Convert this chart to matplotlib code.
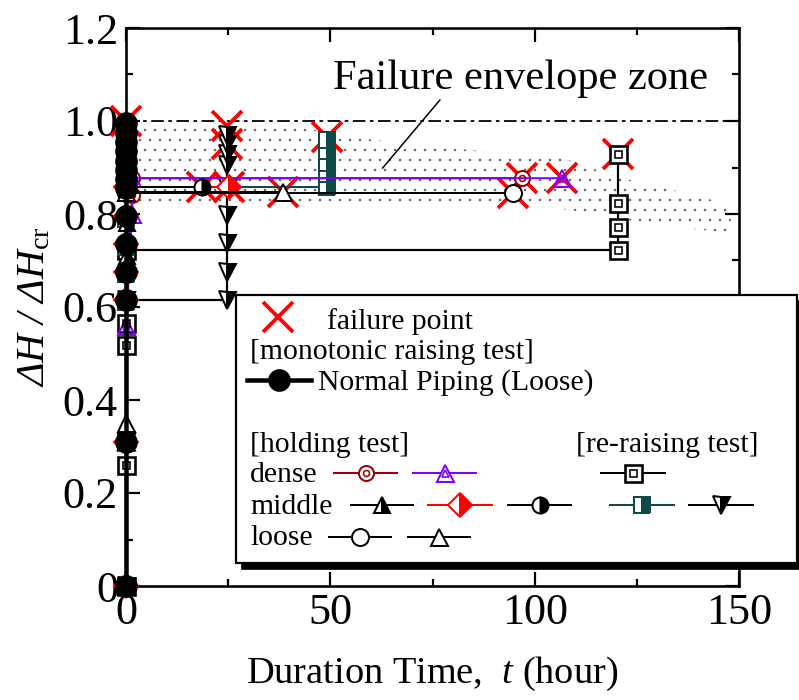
import matplotlib
matplotlib.use("Agg")
import matplotlib.pyplot as plt
from matplotlib.lines import Line2D
from matplotlib.patches import Polygon, Rectangle
from matplotlib.ticker import MultipleLocator, FuncFormatter

plt.rcParams["font.family"] = ["Liberation Serif", "DejaVu Serif"]
plt.rcParams["mathtext.fontset"] = "custom"
plt.rcParams["mathtext.rm"] = "Liberation Serif"
plt.rcParams["mathtext.it"] = "Liberation Serif:italic"
plt.rcParams["hatch.color"] = "#5a5a5a"
plt.rcParams["hatch.linewidth"] = 0.3

DPI = 120
W, H = 799, 700

# ---------------- data ----------------
# monotonic raising test, Normal Piping (Loose)
mono_t = [0, 0, 0, 0, 0, 0, 0, 0, 0, 0, 0, 0, 0, 0]
mono_y = [0.0, 0.31, 0.615, 0.675, 0.735, 0.795, 0.855, 0.875, 0.895,
          0.915, 0.935, 0.955, 0.975, 0.995]

# holding tests
dense_hold_a_t = [0, 0, 0, 1.5, 1.5, 96.8]
dense_hold_a_y = [0.0, 0.31, 0.615, 0.84, 0.877, 0.877]
dense_hold_b_t = [0, 0, 0, 1.5, 1.5, 106.8]
dense_hold_b_y = [0.0, 0.31, 0.56, 0.80, 0.877, 0.877]

middle_hold_a_t = [0, 0, 0.3, 0.3]
middle_hold_a_y = [0.0, 0.31, 0.71, 0.78]
middle_hold_b_t = [0, 0, 0, 0, 0, 0, 0, 25.2]
middle_hold_b_y = [0.0, 0.31, 0.615, 0.675, 0.735, 0.795, 0.858, 0.858]
middle_hold_c_t = [0, 0, 0, 0, 18.6]
middle_hold_c_y = [0.0, 0.31, 0.615, 0.858, 0.858]

loose_hold_a_t = [0, 0, 0, 94.6]
loose_hold_a_y = [0.0, 0.31, 0.845, 0.845]
loose_hold_b_t = [0, 0, 0, 38.4]
loose_hold_b_y = [0.0, 0.35, 0.848, 0.848]

# re-raising tests
dense_rr_t = [0, 0, 0, 0, 0, 120.3, 120.3, 120.3, 120.3]
dense_rr_y = [0.0, 0.26, 0.518, 0.566, 0.722, 0.722, 0.773, 0.824, 0.930]

middle_rr_a_t = [0, 0, 0, 0, 0, 0, 0, 49.1, 49.1, 49.1, 49.1, 49.1]
middle_rr_a_y = [0.0, 0.31, 0.61, 0.67, 0.73, 0.79, 0.858, 0.858, 0.885,
                 0.91, 0.935, 0.96]
middle_rr_b_t = [0, 0, 0, 24.7, 24.7, 24.7, 24.7, 24.7, 24.7, 24.7, 24.7,
                 24.7]
middle_rr_b_y = [0.0, 0.31, 0.615, 0.615, 0.676, 0.737, 0.798, 0.858, 0.905,
                 0.93, 0.95, 0.97]

# failure points
fail_t = [0, 18.6, 24.7, 24.7, 25.2, 38.4, 49.1, 94.6, 96.8, 106.8, 120.3]
fail_y = [1.0, 0.858, 0.95, 0.99, 0.858, 0.848, 0.965, 0.845, 0.877,
          0.877, 0.930]

# failure envelope zone outline
zone_t = [0, 40, 60, 75, 107, 120, 130, 148, 148, 130, 115, 105, 0]
zone_y = [1.0, 0.99, 0.96, 0.945, 0.92, 0.88, 0.86, 0.82, 0.76, 0.775,
          0.80, 0.813, 0.813]

x_ticks = [0, 50, 100, 150]
y_ticks = [0.0, 0.2, 0.4, 0.6, 0.8, 1.0, 1.2]

DARKRED = "#9a0000"
PURPLE = "#8000ff"
TEAL = "#0e4a48"
RED = "#ff0000"


def px(v):
    return v * 72.0 / DPI


fig = plt.figure(figsize=(W / DPI, H / DPI), dpi=DPI)
ax = fig.add_axes([126 / W, 1 - 586 / H, (739 - 126) / W, (586 - 28) / H])
ax.set_xlim(0, 150)
ax.set_ylim(0, 1.2)

# envelope zone (stippled)
ax.add_patch(Polygon(list(zip(zone_t, zone_y)), closed=True, facecolor="none",
                     edgecolor="#5a5a5a", linewidth=0, hatch="..", zorder=1))
ax.axhline(1.0, color="black", lw=px(1.8), ls=(0, (7, 2.5, 2, 2.5)), zorder=1.5)
ax.plot([62.8, 76.8], [0.899, 1.045], color="black", lw=px(1.5), zorder=1.5)
ax.text(50.6, 1.09, "Failure envelope zone", fontsize=25.5, ha="left",
        va="center")

common = dict(clip_on=False, zorder=3)


def series(t, y, color, lw, **mk):
    ax.plot(t, y, color=color, lw=lw, **mk, **common)


# failure crosses (under the markers)
ax.plot(fail_t, fail_y, ls="none", marker="x", ms=px(30), mew=px(3.8),
        color=RED, clip_on=False, zorder=2.5)

# re-raising tests
series(dense_rr_t, dense_rr_y, "black", px(2.2), marker="s", ms=px(17),
       mfc="white", mec="black", mew=px(2.6))
ax.plot(dense_rr_t, dense_rr_y, ls="none", marker="s", ms=px(7), mfc="none",
        mec="black", mew=px(1.6), clip_on=False, zorder=3.1)
series(middle_rr_a_t, middle_rr_a_y, TEAL, px(2.0), marker="s", ms=px(16),
       fillstyle="right", mfc=TEAL, mfcalt="white", mec=TEAL, mew=px(2))
series(middle_rr_b_t, middle_rr_b_y, "black", px(2.2), marker="v", ms=px(17),
       fillstyle="right", mfc="black", mfcalt="white", mec="black",
       mew=px(2))

# holding tests
series(dense_hold_a_t, dense_hold_a_y, DARKRED, px(2.0), marker="o",
       ms=px(15), mfc="white", mec=DARKRED, mew=px(2))
ax.plot(dense_hold_a_t, dense_hold_a_y, ls="none", marker="o", ms=px(6),
        mfc="none", mec=DARKRED, mew=px(1.6), clip_on=False, zorder=3.1)
series(dense_hold_b_t, dense_hold_b_y, PURPLE, px(2.0), marker="^",
       ms=px(17), mfc="none", mec=PURPLE, mew=px(2))
ax.plot(dense_hold_b_t, dense_hold_b_y, ls="none", marker="^", ms=px(7),
        mfc="none", mec=PURPLE, mew=px(1.6), clip_on=False, zorder=3.1)
series(middle_hold_a_t, middle_hold_a_y, "black", px(2.0), marker="^",
       ms=px(16), fillstyle="right", mfc="black", mfcalt="white",
       mec="black", mew=px(2))
series(middle_hold_b_t, middle_hold_b_y, RED, px(2.0), marker="D",
       ms=px(17), fillstyle="right", mfc=RED, mfcalt="white", mec=RED,
       mew=px(2))
series(middle_hold_c_t, middle_hold_c_y, "black", px(2.0), marker="o",
       ms=px(16), fillstyle="right", mfc="black", mfcalt="white",
       mec="black", mew=px(2))
series(loose_hold_a_t, loose_hold_a_y, "black", px(2.0), marker="o",
       ms=px(17), mfc="white", mec="black", mew=px(2))
series(loose_hold_b_t, loose_hold_b_y, "black", px(2.0), marker="^",
       ms=px(17), mfc="white", mec="black", mew=px(2))

# monotonic raising test
ax.plot(mono_t, mono_y, color="black", lw=px(4.5), marker="o", ms=px(21),
        mfc="black", mec="black", clip_on=False, zorder=4)

# axes styling
for s in ax.spines.values():
    s.set_linewidth(px(2.6))
ax.xaxis.set_major_locator(MultipleLocator(50))
ax.xaxis.set_minor_locator(MultipleLocator(25))
ax.yaxis.set_major_locator(MultipleLocator(0.2))
ax.yaxis.set_minor_locator(MultipleLocator(0.1))
ax.set_xticks(x_ticks)
ax.set_yticks(y_ticks)
ax.yaxis.set_major_formatter(FuncFormatter(lambda v, p: "0" if abs(v) < 1e-9 else f"{v:.1f}"))
ax.tick_params(which="both", direction="in", top=True, right=True,
               width=px(2.2))
ax.tick_params(which="major", length=px(14), labelsize=26.5)
ax.tick_params(which="minor", length=px(7))
ax.tick_params(axis="y", pad=px(8))
ax.tick_params(axis="x", pad=px(7))

ax.set_xlabel("Duration Time,  $\\mathit{t}$ (hour)", fontsize=23,
              labelpad=px(22))
ax.set_ylabel("ΔH / ΔH$_{\\mathrm{cr}}$", fontsize=24, fontstyle="italic",
              labelpad=px(10))


# ---------------- legend panel ----------------
def fx(x):
    return x / W


def fy(y):
    return 1 - y / H


fig.add_artist(Rectangle((fx(242), fy(569)), fx(797) - fx(236),
                         fy(295) - fy(563), transform=fig.transFigure,
                         facecolor="black", edgecolor="black", zorder=10))
fig.add_artist(Rectangle((fx(236), fy(563)), fx(797) - fx(236),
                         fy(295) - fy(563), transform=fig.transFigure,
                         facecolor="white", edgecolor="black",
                         linewidth=px(2.2), zorder=11))

LEG_FS = 17.8


def leg_text(x, y, s):
    fig.text(fx(x), fy(y), s, fontsize=LEG_FS, ha="left", va="center",
             zorder=12)


def leg_sample(x0, x1, y, color, lw, **mk):
    fig.add_artist(Line2D([fx(x0), fx(x1)], [fy(y), fy(y)],
                          transform=fig.transFigure, color=color, lw=lw,
                          zorder=12))
    fig.add_artist(Line2D([fx((x0 + x1) / 2)], [fy(y)],
                          transform=fig.transFigure, ls="none", zorder=13,
                          **mk))


fig.add_artist(Line2D([fx(278)], [fy(317)], transform=fig.transFigure,
                      ls="none", marker="x", ms=px(30), mew=px(3.8),
                      color=RED, zorder=12))
leg_text(327, 322, "failure point")
leg_text(250, 352, "[monotonic raising test]")
leg_sample(247, 311, 380, "black", px(4.5), marker="o", ms=px(21),
           mfc="black", mec="black")
leg_text(318, 383, "Normal Piping (Loose)")
leg_text(250, 445, "[holding test]")
leg_text(576, 445, "[re-raising test]")
leg_text(250, 475, "dense")
leg_text(250, 507, "middle")
leg_text(250, 538, "loose")

# dense row
leg_sample(334, 397, 473, DARKRED, px(2), marker="o", ms=px(15),
           mfc="white", mec=DARKRED, mew=px(2))
leg_sample(365.5, 365.5, 473, DARKRED, 0, marker="o", ms=px(6), mfc="none",
           mec=DARKRED, mew=px(1.6))
leg_sample(413, 476, 473, PURPLE, px(2), marker="^", ms=px(17),
           mfc="white", mec=PURPLE, mew=px(2))
leg_sample(444.5, 444.5, 473, PURPLE, 0, marker="^", ms=px(7), mfc="none",
           mec=PURPLE, mew=px(1.6))
leg_sample(601, 665, 473, "black", px(2), marker="s", ms=px(17),
           mfc="white", mec="black", mew=px(2.6))
leg_sample(633, 633, 473, "black", 0, marker="s", ms=px(7), mfc="none",
           mec="black", mew=px(1.6))

# middle row
leg_sample(351, 413, 505, "black", px(2), marker="^", ms=px(16),
           fillstyle="right", mfc="black", mfcalt="white", mec="black",
           mew=px(2))
leg_sample(428, 492, 505, RED, px(2), marker="D", ms=px(17),
           fillstyle="right", mfc=RED, mfcalt="white", mec=RED, mew=px(2))
leg_sample(508, 571, 505, "black", px(2), marker="o", ms=px(16),
           fillstyle="right", mfc="black", mfcalt="white", mec="black",
           mew=px(2))
leg_sample(610, 674, 505, TEAL, px(2), marker="s", ms=px(16),
           fillstyle="right", mfc=TEAL, mfcalt="white", mec=TEAL, mew=px(2))
leg_sample(689, 753, 505, "black", px(2), marker="v", ms=px(17),
           fillstyle="right", mfc="black", mfcalt="white", mec="black",
           mew=px(2))

# loose row
leg_sample(329, 391, 537, "black", px(2), marker="o", ms=px(17),
           mfc="white", mec="black", mew=px(2))
leg_sample(408, 470, 537, "black", px(2), marker="^", ms=px(17),
           mfc="white", mec="black", mew=px(2))

fig.savefig("out.png", dpi=DPI)
